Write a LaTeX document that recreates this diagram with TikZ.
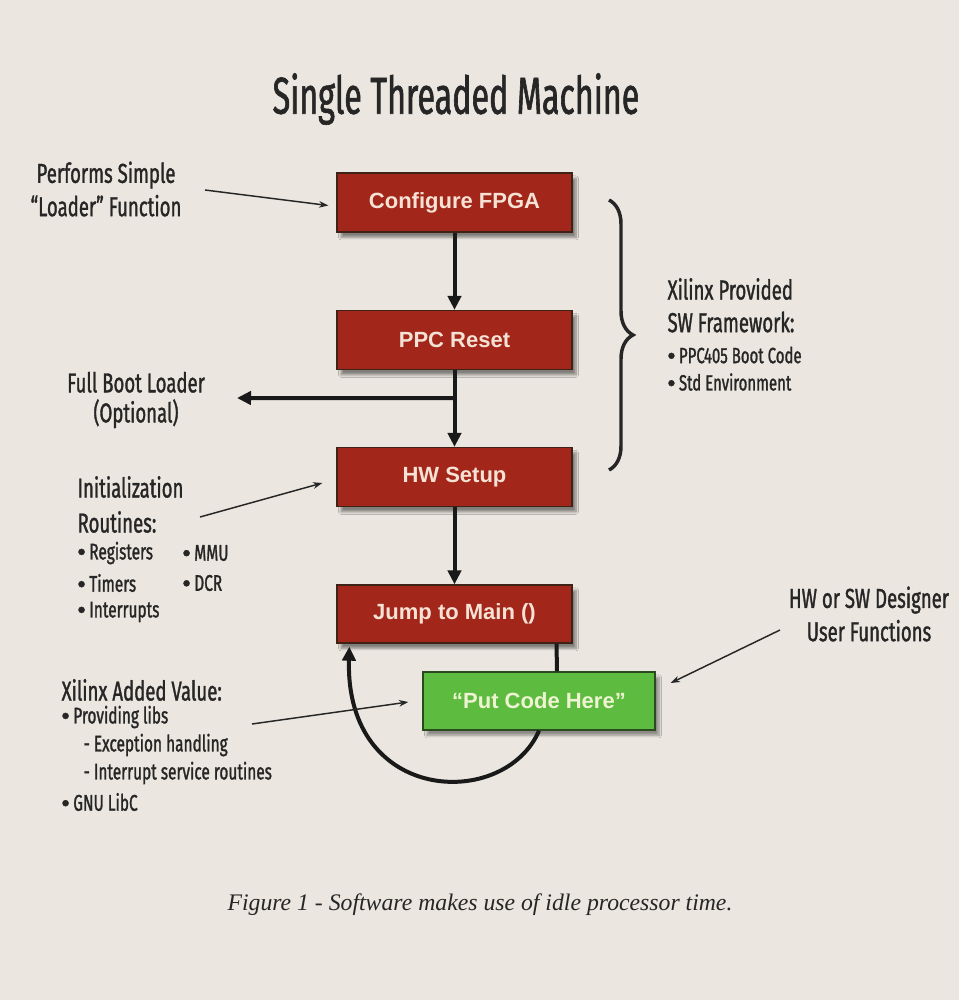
\documentclass[tikz,border=0pt]{standalone}
\usepackage{fontspec}
\setmainfont{Liberation Serif}
\newfontfamily\cond[FakeStretch=0.68,FakeBold=1.2]{Fira Sans}
\newfontfamily\condt[FakeStretch=0.62,FakeBold=1.2]{Fira Sans}
\newfontfamily\boxf{Liberation Sans}
\newfontfamily\bulf[FakeBold=1.5]{Liberation Sans}
\newcommand\bul{{\bulf\char"2022}\,}
\usetikzlibrary{arrows.meta,shadows.blur,decorations.pathreplacing,calc}
\definecolor{bg}{HTML}{EBE7E0}
\definecolor{redbox}{HTML}{A2261A}
\definecolor{redborder}{HTML}{3E2218}
\definecolor{redtext}{HTML}{F6E2D4}
\definecolor{greenbox}{HTML}{5DBB3F}
\definecolor{greenborder}{HTML}{2C4A20}
\definecolor{greentext}{HTML}{EEF4D2}
\definecolor{ink}{HTML}{262626}
\begin{document}
\begin{tikzpicture}[x=0.75pt,y=-0.75pt,
  stepbox/.style={draw=redborder, line width=1pt, fill=redbox, minimum width=176.25pt, minimum height=44.25pt, inner sep=0pt,
    font=\boxf\bfseries\fontsize{16.5}{18}\selectfont, text=redtext,
    blur shadow={shadow xshift=3pt, shadow yshift=-4pt, shadow opacity=45, shadow blur steps=8}},
  codebox/.style={draw=greenborder, line width=1pt, fill=greenbox, minimum width=174pt, minimum height=43.5pt, inner sep=0pt,
    font=\boxf\bfseries\fontsize{16.5}{18}\selectfont, text=greentext,
    blur shadow={shadow xshift=3pt, shadow yshift=-4pt, shadow opacity=40, shadow blur steps=8}},
  lbl/.style={font=\cond\fontsize{20.5}{25}\selectfont, text=ink, inner sep=1pt},
  sml/.style={font=\cond\fontsize{17}{20}\selectfont, text=ink, inner sep=1pt},
  flow/.style={draw=black!90, line width=3pt, -{Triangle[length=10.5pt,width=10pt]}},
  plain/.style={draw=black!90, line width=3pt},
  pointer/.style={draw=ink, line width=1.1pt, -{Stealth[length=7pt,width=5pt]}},
]
\fill[bg] (0,0) rectangle (959,1000);
\useasboundingbox (0,0) rectangle (959,1000);

% title
\node[font=\condt\fontsize{39}{44}\selectfont, text=ink] (title) at (456,99) {Single Threaded Machine};

% main boxes
\node[stepbox] (cfg) at (454.5,202.5) {Configure FPGA};
\node[stepbox] (reset) at (454.5,340) {PPC Reset};
\node[stepbox] (hw) at (454.5,477) {HW Setup};
\node[stepbox, minimum height=43.5pt] (jump) at (454.5,614) {Jump to Main ()};
\node[codebox] (put) at (539,701) {“Put Code Here”};

% flow arrows
\draw[flow] (cfg.south) -- (reset.north);
\coordinate (br) at ($(reset.south)+(0,28)$);
\coordinate (fblarr) at (237,398);
\draw[plain] (reset.south) -- (br);
\draw[flow] (br) -- (hw.north);
\draw[flow] (br) -- (fblarr);
\draw[flow] (hw.south) -- (jump.north);
\draw[plain] ($(jump.south)+(102,0)$) -- ($(put.north)+(18,0)$);
\coordinate (loopend) at ($(jump.south west)+(13,3)$);
\draw[flow] (put.south) .. controls (505,810) and (345,805) .. (loopend);

% brace
\coordinate (bt) at (609,200);
\coordinate (bb) at (609,470);
\draw[decorate, decoration={brace, amplitude=18pt}, line width=2.6pt, draw=black!85] (bt) -- (bb);

% left labels
\node[lbl, align=center] (perf) at (106,189) {Performs Simple\\“Loader” Function};
\coordinate (perfarr) at (205,190);
\draw[pointer] (perfarr) -- ($(cfg.west)+(-8,3)$);

\node[lbl, align=center, font=\cond\fontsize{20.5}{22.5}\selectfont] (fbl) at (136,400) {Full Boot Loader\\(Optional)};

\node[lbl, anchor=west] (init1) at (76,487) {Initialization};
\node[lbl, anchor=west] (init2) at (76,522) {Routines:};
\node[sml, anchor=west] (reg) at (76,553) {\bul Registers};
\node[sml, anchor=west] (tim) at (76,583) {\bul Timers};
\node[sml, anchor=west] (intr) at (76,612) {\bul Interrupts};
\node[sml, anchor=west] (mmu) at (181,553) {\bul MMU};
\node[sml, anchor=west] (dcr) at (181,583) {\bul DCR};
\coordinate (initarr) at (200,517);
\draw[pointer] (initarr) -- ($(hw.west)+(-14,6)$);

\node[lbl, anchor=west] (xav) at (60,690) {Xilinx Added Value:};
\node[sml, anchor=west] (libs) at (60,717) {\bul Providing libs};
\node[sml, anchor=west] (exc) at (82,745) {- Exception handling};
\node[sml, anchor=west] (isr) at (82,773) {- Interrupt service routines};
\node[sml, anchor=west] (gnu) at (60,802) {\bul GNU LibC};
\coordinate (xavarr) at (252,724);
\draw[pointer] (xavarr) -- ($(put.west)+(-14,1)$);

% right labels
\node[lbl, anchor=west] (xp1) at (666,289) {Xilinx Provided};
\node[lbl, anchor=west] (xp2) at (666,322) {SW Framework:};
\node[sml, anchor=west, font=\cond\fontsize{16.5}{19}\selectfont] (ppc) at (666,355) {\bul PPC405 Boot Code};
\node[sml, anchor=west, font=\cond\fontsize{16.5}{19}\selectfont] (std) at (666,382) {\bul Std Environment};

\node[lbl, align=center] (hwsw) at (869,614) {HW or SW Designer\\User Functions};
\coordinate (hwswarr) at (780,630);
\draw[pointer] (hwswarr) -- ($(put.east)+(15,-18)$);

% caption
\node[font=\itshape\fontsize{17.8}{20}\selectfont, text=ink] (cap) at (480,905) {Figure 1 - Software makes use of idle processor time.};
\end{tikzpicture}
\end{document}
